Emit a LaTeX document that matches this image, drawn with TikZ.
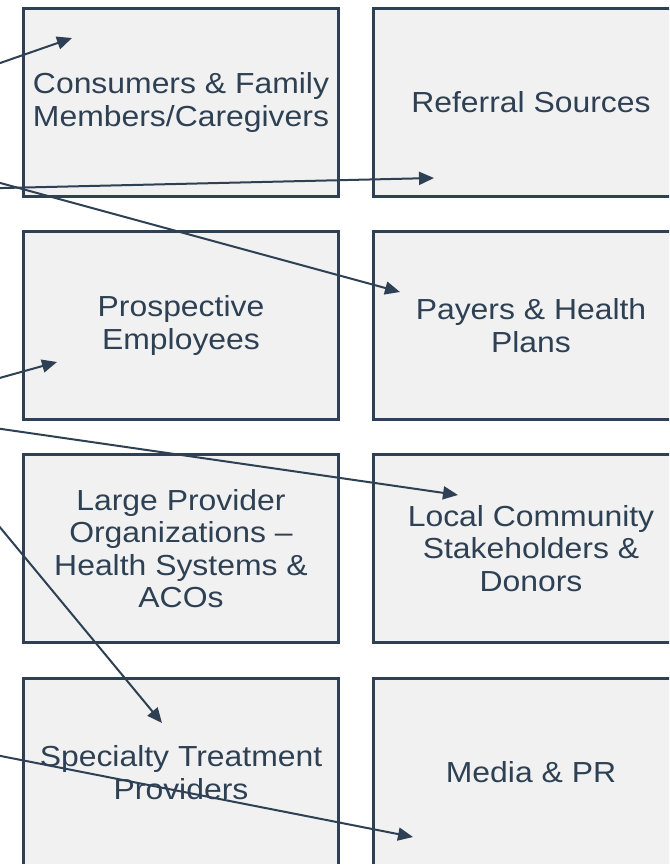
\documentclass[tikz,border=0pt]{standalone}
\usepackage{fontspec}
\setmainfont{Liberation Sans}[FakeStretch=1.1]
\usepackage{tikz}
\usetikzlibrary{arrows.meta}

\definecolor{pizarra}{RGB}{46,64,83}
\definecolor{fondocaja}{RGB}{241,241,241}

\tikzset{
  caja/.style={draw=pizarra, fill=fondocaja, line width=2.25pt,
    minimum width=236.25pt, minimum height=141pt, align=center,
    text=pizarra, font=\fontsize{21.75pt}{24.4pt}\selectfont},
  flecha/.style={draw=pizarra, line width=1.5pt,
    -{Triangle[length=11.25pt, width=9.75pt]}}
}

\begin{document}
\begin{tikzpicture}[x=0.75pt, y=-0.75pt]

			% Marco visible
			\useasboundingbox (0,0) rectangle (669,864);
			\clip (0,0) rectangle (669,864);

			% Cajas de la primera columna
			\node[caja] (consum) at (181,102.5) {Consumers \& Family\\Members/Caregivers};
			\node[caja] (empleados) at (181,325.5) {Prospective\\Employees};
			\node[caja] (proveedores) at (181,548.5) {Large Provider\\Organizations --\\Health Systems \&\\ACOs};
			\node[caja] (especialidad) at (181,772.5) {Specialty Treatment\\Providers};

			% Cajas de la segunda columna
			\node[caja] (referidos) at (531,102.5) {Referral Sources};
			\node[caja] (pagadores) at (531,325.5) {Payers \& Health\\Plans};
			\node[caja] (comunidad) at (531,548.5) {Local Community\\Stakeholders \&\\Donors};
			\node[caja] (medios) at (531,772.5) {Media \& PR};

			% Origen de las flechas (fuera del marco)
			\coordinate (o1) at (-40,77);
			\coordinate (o2) at (-40,189);
			\coordinate (o3) at (-40,172);
			\coordinate (o4) at (-40,389);
			\coordinate (o5) at (-40,423);
			\coordinate (o6) at (-40,479);
			\coordinate (o7) at (-40,748);

			% Puntas de las flechas
			\coordinate (p1) at (72,38);
			\coordinate (p2) at (434,178);
			\coordinate (p3) at (400,292);
			\coordinate (p4) at (57,362);
			\coordinate (p5) at (458,495);
			\coordinate (p6) at (162,723);
			\coordinate (p7) at (413,837);

			% Flechas hacia cada grupo
			\draw[flecha] (o1) -- (p1);
			\draw[flecha] (o2) -- (p2);
			\draw[flecha] (o3) -- (p3);
			\draw[flecha] (o4) -- (p4);
			\draw[flecha] (o5) -- (p5);
			\draw[flecha] (o6) -- (p6);
			\draw[flecha] (o7) -- (p7);

\end{tikzpicture}
\end{document}
